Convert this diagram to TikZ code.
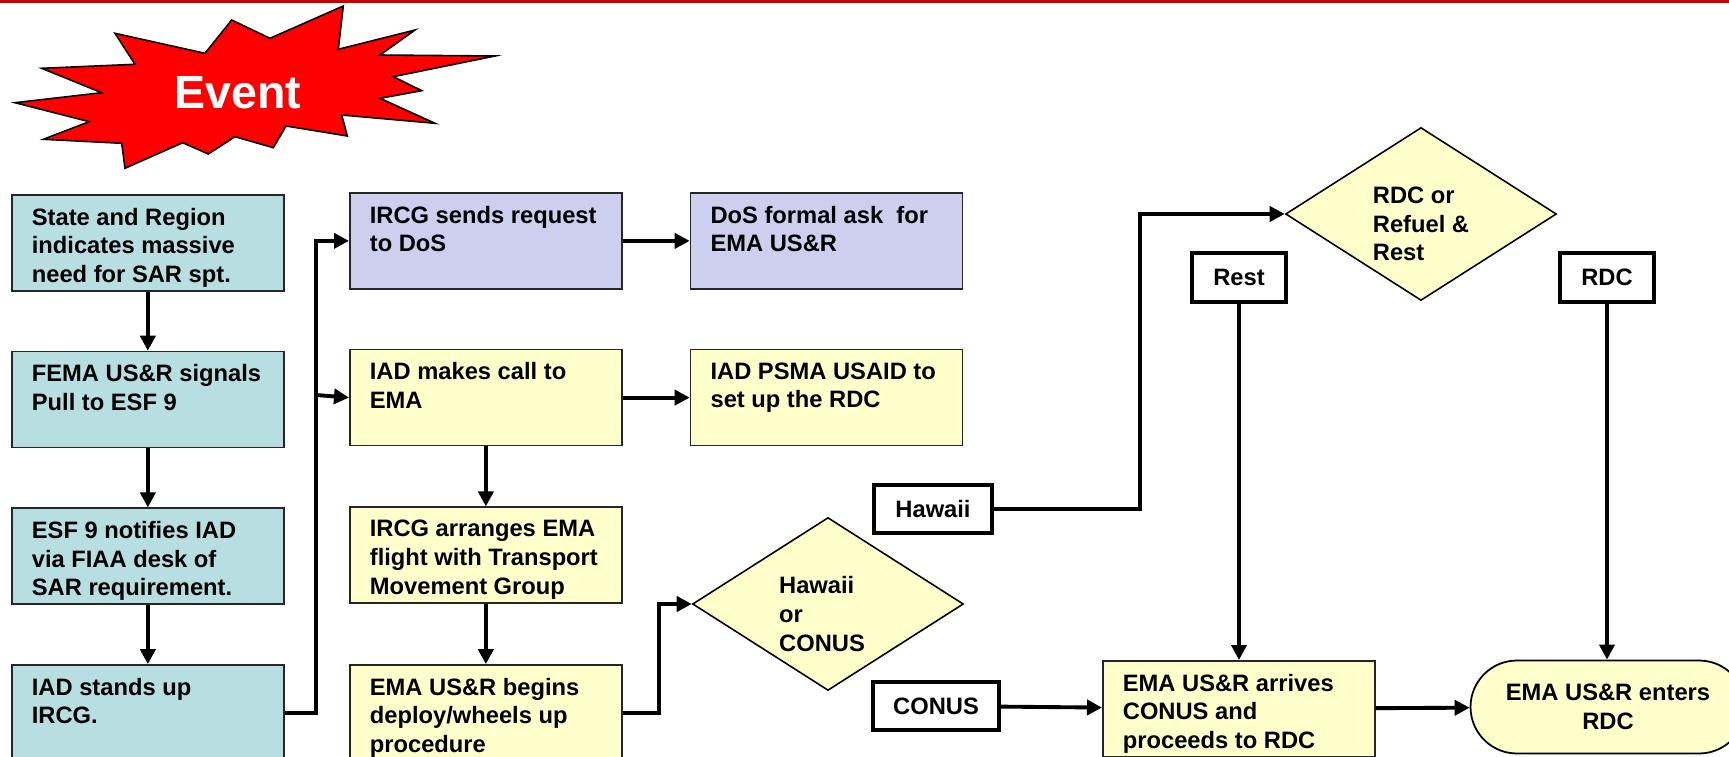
\documentclass[tikz,border=0pt]{standalone}
\usepackage{fontspec}
\setmainfont{Liberation Sans}
\usepackage{tikz}
\usetikzlibrary{arrows.meta, positioning, shapes.geometric}
\definecolor{boxteal}{RGB}{183,222,225}
\definecolor{boxlilac}{RGB}{206,206,238}
\definecolor{boxyellow}{RGB}{255,255,204}
\definecolor{linered}{RGB}{200,0,0}

\begin{document}
\begin{tikzpicture}[x=0.02cm,y=-0.02cm,
  font=\fontsize{13.5}{16.3}\selectfont\bfseries,
  box/.style={draw=black!85,line width=1pt,anchor=north west,inner xsep=0.4cm,inner ysep=0.26cm,
    execute at begin node={\begin{minipage}[c][1.4cm][t]{4.64cm}\raggedright},
    execute at end node={\end{minipage}}},
  tealbox/.style={box,fill=boxteal},
  lilacbox/.style={box,fill=boxlilac},
  yelbox/.style={box,fill=boxyellow},
  tag/.style={draw,line width=2.3pt,fill=white,minimum height=0.96cm,inner sep=0pt},
  choice/.style={diamond,draw,line width=0.9pt,fill=boxyellow,minimum width=5.42cm,
    minimum height=3.46cm,inner sep=0pt},
  arr/.style={-{Triangle[length=0.3cm,width=0.3cm]},line width=2.2pt}]
  \useasboundingbox (0,0) rectangle (1729,757);
  \clip (0,0) rectangle (1729,757);
  \draw[linered,line width=2pt] (0,1) -- (1729,1);
  \draw[fill=red,line width=0.9pt] (115,33.3) -- (205,53.3) -- (231.7,20) -- (270,38.3)
    -- (343.3,6) -- (338.3,49.3) -- (415,30) -- (380,55) -- (495,56) -- (393.3,76.7)
    -- (421.7,90.7) -- (380,98.3) -- (435,123.3) -- (341.7,115) -- (347.3,136) -- (286,126)
    -- (273.3,147.7) -- (235,136.7) -- (208.3,154) -- (182.7,142.7) -- (125,168.3)
    -- (121.7,143.3) -- (43.3,139.3) -- (89.3,121.7) -- (15,102.7) -- (101.7,92.7)
    -- (41.7,68.3) -- (135,64.3) -- cycle;
  \node[font=\fontsize{26.5}{30}\selectfont\bfseries,text=white](event) at (238,93){Event};

  \node[tealbox](tb1) at (11,194){State and Region\\indicates massive\\need for SAR spt.};
  \node[tealbox,below=1.18cm of tb1](tb2){FEMA US\&R signals\\Pull to ESF 9};
  \node[tealbox,below=1.18cm of tb2](tb3){ESF 9 notifies IAD\\via FIAA desk of\\SAR requirement.};
  \node[tealbox,below=1.18cm of tb3](tb4){IAD stands up\\IRCG.};

  \node[lilacbox](pb1) at (349,192){IRCG sends request\\to DoS};
  \node[lilacbox,right=1.34cm of pb1](pb2){DoS formal ask\ \ for\\EMA US\&R};
  \node[yelbox,below=1.18cm of pb1](yb1){IAD makes call to\\EMA};
  \node[yelbox,right=1.34cm of yb1](yb2){IAD PSMA USAID to\\set up the RDC};
  \node[yelbox,below=1.2cm of yb1](yb3){IRCG arranges EMA\\flight with Transport\\Movement Group};
  \node[yelbox,below=1.2cm of yb3](yb4){EMA US\&R begins\\deploy/wheels up\\procedure};

  \node[choice,label={[name=dia1txt,align=left,xshift=-0.12cm,yshift=-0.2cm]center:Hawaii\\or\\CONUS}](dia1) at (828,604){};
  \node[choice,label={[name=dia2txt,align=left,yshift=-0.2cm]center:RDC or\\Refuel \&\\Rest}](dia2) at (1421,214){};
  \node[tag,minimum width=2.36cm](hawaii) at (933,509){Hawaii};
  \node[tag,minimum width=2.52cm](conus) at (936,706){CONUS};
  \node[tag,minimum width=1.88cm,minimum height=0.98cm](rest) at (1239,277.5){Rest};
  \node[tag,minimum width=1.88cm,minimum height=0.98cm](rdc) at (1607,277.5){RDC};
  \node[yelbox](arrives) at (1102,660){EMA US\&R arrives\\CONUS and\\proceeds to RDC};
  \node[draw,line width=1pt,fill=boxyellow,rounded corners=0.93cm,minimum width=5.5cm,
    minimum height=1.86cm,align=center](enters) at (1608,707){EMA US\&R enters\\RDC};

  \draw[arr](tb1.south)--(tb2.north);
  \draw[arr](tb2.south)--(tb3.north);
  \draw[arr](tb3.south)--(tb4.north);
  \coordinate (bus) at (316,395);
  \draw[arr](tb4.east)-|(bus)|-(pb1.west);
  \draw[arr](bus)--(yb1.west);
  \draw[arr](pb1)--(pb2);
  \draw[arr](yb1)--(yb2);
  \draw[arr](yb1)--(yb3);
  \draw[arr](yb3)--(yb4);
  \draw[arr](yb4.east)--++(36,0)|-(dia1.west);
  \draw[arr](hawaii.east)--++(146,0)|-(dia2.west);
  \draw[arr](conus)--(arrives);
  \draw[arr](rest.south)--(rest.south|-arrives.north);
  \draw[arr](rdc.south)--(rdc.south|-enters.north);
  \draw[arr](arrives)--(enters);
\end{tikzpicture}
\end{document}
